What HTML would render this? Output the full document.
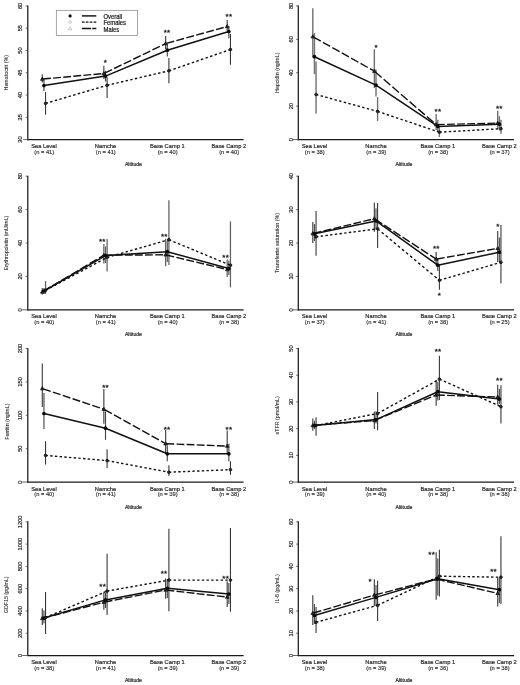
<!DOCTYPE html>
<html><head><meta charset="utf-8"><title>Figure</title>
<style>html,body{margin:0;padding:0;background:#fff;}svg{display:block;filter:grayscale(1);}</style></head>
<body>
<svg width="520" height="685" viewBox="0 0 520 685" font-family="'Liberation Sans', sans-serif">
<rect width="520" height="685" fill="#fff"/>
<g><line x1="45.55" y1="92.00" x2="45.55" y2="114.80" stroke="#383838" stroke-width="1.1"/>
<line x1="107.10" y1="77.20" x2="107.10" y2="98.10" stroke="#383838" stroke-width="1.1"/>
<line x1="168.90" y1="57.90" x2="168.90" y2="83.30" stroke="#383838" stroke-width="1.1"/>
<line x1="230.45" y1="34.00" x2="230.45" y2="64.70" stroke="#383838" stroke-width="1.1"/>
<line x1="42.30" y1="74.50" x2="42.30" y2="82.50" stroke="#404040" stroke-width="1.15"/>
<line x1="103.85" y1="65.80" x2="103.85" y2="79.00" stroke="#404040" stroke-width="1.15"/>
<line x1="165.65" y1="36.00" x2="165.65" y2="49.00" stroke="#404040" stroke-width="1.15"/>
<line x1="227.20" y1="19.90" x2="227.20" y2="31.00" stroke="#404040" stroke-width="1.15"/>
<line x1="43.95" y1="80.20" x2="43.95" y2="91.10" stroke="#484848" stroke-width="1.15"/>
<line x1="105.50" y1="71.00" x2="105.50" y2="81.60" stroke="#484848" stroke-width="1.15"/>
<line x1="167.30" y1="44.30" x2="167.30" y2="56.60" stroke="#484848" stroke-width="1.15"/>
<line x1="228.85" y1="26.00" x2="228.85" y2="38.30" stroke="#484848" stroke-width="1.15"/>
<line x1="45.55" y1="103.40" x2="107.10" y2="85.30" stroke="#111" stroke-width="1.4" stroke-dasharray="2.45 2.35" stroke-dashoffset="0.00"/>
<line x1="107.10" y1="85.30" x2="168.90" y2="70.80" stroke="#111" stroke-width="1.4" stroke-dasharray="2.43 2.33" stroke-dashoffset="0.00"/>
<line x1="168.90" y1="70.80" x2="230.45" y2="49.50" stroke="#111" stroke-width="1.4" stroke-dasharray="2.47 2.37" stroke-dashoffset="0.00"/>
<line x1="42.30" y1="79.10" x2="103.85" y2="73.50" stroke="#111" stroke-width="1.4" stroke-dasharray="7.82 2.30" stroke-dashoffset="9.32"/>
<line x1="103.85" y1="73.50" x2="165.65" y2="43.60" stroke="#111" stroke-width="1.4" stroke-dasharray="8.21 2.42" stroke-dashoffset="9.79"/>
<line x1="165.65" y1="43.60" x2="227.20" y2="26.50" stroke="#111" stroke-width="1.4" stroke-dasharray="7.95 2.34" stroke-dashoffset="9.47"/>
<line x1="43.95" y1="85.60" x2="105.50" y2="76.10" stroke="#111" stroke-width="1.5" stroke-linecap="round"/>
<line x1="105.50" y1="76.10" x2="167.30" y2="50.20" stroke="#111" stroke-width="1.5" stroke-linecap="round"/>
<line x1="167.30" y1="50.20" x2="228.85" y2="31.50" stroke="#111" stroke-width="1.5" stroke-linecap="round"/>
<circle cx="45.55" cy="103.40" r="1.35" fill="#2c2c2c" stroke="#111" stroke-width="0.8"/>
<path d="M42.30,77.10 L44.15,80.35 L40.45,80.35 Z" fill="#262626" stroke="#111" stroke-width="0.7" stroke-linejoin="round"/>
<circle cx="43.95" cy="85.60" r="1.85" fill="#0a0a0a"/>
<circle cx="107.10" cy="85.30" r="1.35" fill="#2c2c2c" stroke="#111" stroke-width="0.8"/>
<path d="M103.85,71.50 L105.70,74.75 L102.00,74.75 Z" fill="#262626" stroke="#111" stroke-width="0.7" stroke-linejoin="round"/>
<circle cx="105.50" cy="76.10" r="1.85" fill="#0a0a0a"/>
<circle cx="168.90" cy="70.80" r="1.35" fill="#2c2c2c" stroke="#111" stroke-width="0.8"/>
<path d="M165.65,41.60 L167.50,44.85 L163.80,44.85 Z" fill="#262626" stroke="#111" stroke-width="0.7" stroke-linejoin="round"/>
<circle cx="167.30" cy="50.20" r="1.85" fill="#0a0a0a"/>
<circle cx="230.45" cy="49.50" r="1.35" fill="#2c2c2c" stroke="#111" stroke-width="0.8"/>
<path d="M227.20,24.50 L229.05,27.75 L225.35,27.75 Z" fill="#262626" stroke="#111" stroke-width="0.7" stroke-linejoin="round"/>
<circle cx="228.85" cy="31.50" r="1.85" fill="#0a0a0a"/>
<line x1="27.80" y1="5.40" x2="27.80" y2="140.20" stroke="#1a1a1a" stroke-width="1.25"/>
<line x1="27.20" y1="139.60" x2="243.60" y2="139.60" stroke="#1a1a1a" stroke-width="1.25"/>
<line x1="23.20" y1="139.60" x2="27.80" y2="139.60" stroke="#4a4a4a" stroke-width="0.85"/>
<text transform="translate(22.40,139.60) rotate(-90)" font-size="5.7" text-anchor="middle" fill="#2a2a2a" stroke="#2a2a2a" stroke-width="0.2">30</text>
<line x1="25.60" y1="117.32" x2="27.80" y2="117.32" stroke="#333" stroke-width="0.7"/>
<text transform="translate(22.40,117.32) rotate(-90)" font-size="5.7" text-anchor="middle" fill="#2a2a2a" stroke="#2a2a2a" stroke-width="0.2">35</text>
<line x1="25.60" y1="95.03" x2="27.80" y2="95.03" stroke="#333" stroke-width="0.7"/>
<text transform="translate(22.40,95.03) rotate(-90)" font-size="5.7" text-anchor="middle" fill="#2a2a2a" stroke="#2a2a2a" stroke-width="0.2">40</text>
<line x1="25.60" y1="72.75" x2="27.80" y2="72.75" stroke="#333" stroke-width="0.7"/>
<text transform="translate(22.40,72.75) rotate(-90)" font-size="5.7" text-anchor="middle" fill="#2a2a2a" stroke="#2a2a2a" stroke-width="0.2">45</text>
<line x1="25.60" y1="50.47" x2="27.80" y2="50.47" stroke="#333" stroke-width="0.7"/>
<text transform="translate(22.40,50.47) rotate(-90)" font-size="5.7" text-anchor="middle" fill="#2a2a2a" stroke="#2a2a2a" stroke-width="0.2">50</text>
<line x1="25.60" y1="28.18" x2="27.80" y2="28.18" stroke="#333" stroke-width="0.7"/>
<text transform="translate(22.40,28.18) rotate(-90)" font-size="5.7" text-anchor="middle" fill="#2a2a2a" stroke="#2a2a2a" stroke-width="0.2">55</text>
<line x1="25.60" y1="5.90" x2="27.80" y2="5.90" stroke="#333" stroke-width="0.7"/>
<text transform="translate(22.40,5.90) rotate(-90)" font-size="5.7" text-anchor="middle" fill="#2a2a2a" stroke="#2a2a2a" stroke-width="0.2">60</text>
<text transform="translate(8.10,72.75) rotate(-90)" font-size="5.3" text-anchor="middle" fill="#333" stroke="#333" stroke-width="0.1">Hematocrit (%)</text>
<text transform="translate(43.95,148.10) scale(1,1.085)" font-size="5.75" text-anchor="middle" fill="#2a2a2a" stroke="#2a2a2a" stroke-width="0.2">Sea Level</text>
<text transform="translate(44.25,153.60) scale(1,1.085)" font-size="5.75" text-anchor="middle" fill="#303030" stroke="#303030" stroke-width="0.15">(n = 41)</text>
<text transform="translate(105.50,148.10) scale(1,1.085)" font-size="5.75" text-anchor="middle" fill="#2a2a2a" stroke="#2a2a2a" stroke-width="0.2">Namche</text>
<text transform="translate(105.80,153.60) scale(1,1.085)" font-size="5.75" text-anchor="middle" fill="#303030" stroke="#303030" stroke-width="0.15">(n = 41)</text>
<text transform="translate(167.30,148.10) scale(1,1.085)" font-size="5.75" text-anchor="middle" fill="#2a2a2a" stroke="#2a2a2a" stroke-width="0.2">Base Camp 1</text>
<text transform="translate(167.60,153.60) scale(1,1.085)" font-size="5.75" text-anchor="middle" fill="#303030" stroke="#303030" stroke-width="0.15">(n = 40)</text>
<text transform="translate(228.85,148.10) scale(1,1.085)" font-size="5.75" text-anchor="middle" fill="#2a2a2a" stroke="#2a2a2a" stroke-width="0.2">Base Camp 2</text>
<text transform="translate(229.15,153.60) scale(1,1.085)" font-size="5.75" text-anchor="middle" fill="#303030" stroke="#303030" stroke-width="0.15">(n = 40)</text>
<text transform="translate(133.40,166.10) scale(1,1.085)" font-size="5.1" text-anchor="middle" fill="#2a2a2a" stroke="#2a2a2a" stroke-width="0.2">Altitude</text>
<text x="105.50" y="65.00" font-size="8" letter-spacing="0.3" text-anchor="middle" fill="#1a1a1a" stroke="#1a1a1a" stroke-width="0.3">*</text>
<text x="167.10" y="35.10" font-size="8" letter-spacing="0.3" text-anchor="middle" fill="#1a1a1a" stroke="#1a1a1a" stroke-width="0.3">**</text>
<text x="228.90" y="19.10" font-size="8" letter-spacing="0.3" text-anchor="middle" fill="#1a1a1a" stroke="#1a1a1a" stroke-width="0.3">**</text></g>
<g><line x1="316.05" y1="61.60" x2="316.05" y2="113.60" stroke="#707070" stroke-width="1.4"/>
<line x1="377.60" y1="97.20" x2="377.60" y2="120.90" stroke="#707070" stroke-width="1.4"/>
<line x1="439.40" y1="126.50" x2="439.40" y2="137.00" stroke="#707070" stroke-width="1.4"/>
<line x1="500.95" y1="119.80" x2="500.95" y2="133.70" stroke="#707070" stroke-width="1.4"/>
<line x1="312.80" y1="8.30" x2="312.80" y2="57.60" stroke="#707070" stroke-width="1.4"/>
<line x1="374.35" y1="49.20" x2="374.35" y2="88.00" stroke="#707070" stroke-width="1.4"/>
<line x1="436.15" y1="114.10" x2="436.15" y2="130.00" stroke="#707070" stroke-width="1.4"/>
<line x1="497.70" y1="110.70" x2="497.70" y2="129.00" stroke="#707070" stroke-width="1.4"/>
<line x1="314.45" y1="33.00" x2="314.45" y2="74.10" stroke="#707070" stroke-width="1.4"/>
<line x1="376.00" y1="69.60" x2="376.00" y2="96.60" stroke="#707070" stroke-width="1.4"/>
<line x1="437.80" y1="119.80" x2="437.80" y2="131.50" stroke="#707070" stroke-width="1.4"/>
<line x1="499.35" y1="116.20" x2="499.35" y2="130.50" stroke="#707070" stroke-width="1.4"/>
<line x1="316.05" y1="94.50" x2="377.60" y2="111.40" stroke="#111" stroke-width="1.4" stroke-dasharray="2.44 2.34" stroke-dashoffset="0.00"/>
<line x1="377.60" y1="111.40" x2="439.40" y2="132.20" stroke="#111" stroke-width="1.4" stroke-dasharray="2.46 2.36" stroke-dashoffset="0.00"/>
<line x1="439.40" y1="132.20" x2="500.95" y2="128.70" stroke="#111" stroke-width="1.4" stroke-dasharray="2.40 2.30" stroke-dashoffset="0.00"/>
<line x1="312.80" y1="36.70" x2="374.35" y2="71.20" stroke="#111" stroke-width="1.4" stroke-dasharray="8.32 2.45" stroke-dashoffset="9.92"/>
<line x1="374.35" y1="71.20" x2="436.15" y2="124.60" stroke="#111" stroke-width="1.4" stroke-dasharray="8.82 2.60" stroke-dashoffset="10.52"/>
<line x1="436.15" y1="124.60" x2="497.70" y2="123.10" stroke="#111" stroke-width="1.4" stroke-dasharray="7.80 2.30" stroke-dashoffset="9.30"/>
<line x1="314.45" y1="56.70" x2="376.00" y2="85.10" stroke="#111" stroke-width="1.5" stroke-linecap="round"/>
<line x1="376.00" y1="85.10" x2="437.80" y2="126.40" stroke="#111" stroke-width="1.5" stroke-linecap="round"/>
<line x1="437.80" y1="126.40" x2="499.35" y2="124.20" stroke="#111" stroke-width="1.5" stroke-linecap="round"/>
<circle cx="316.05" cy="94.50" r="1.35" fill="#2c2c2c" stroke="#111" stroke-width="0.8"/>
<path d="M312.80,34.70 L314.65,37.95 L310.95,37.95 Z" fill="#262626" stroke="#111" stroke-width="0.7" stroke-linejoin="round"/>
<circle cx="314.45" cy="56.70" r="1.85" fill="#0a0a0a"/>
<circle cx="377.60" cy="111.40" r="1.35" fill="#2c2c2c" stroke="#111" stroke-width="0.8"/>
<path d="M374.35,69.20 L376.20,72.45 L372.50,72.45 Z" fill="#262626" stroke="#111" stroke-width="0.7" stroke-linejoin="round"/>
<circle cx="376.00" cy="85.10" r="1.85" fill="#0a0a0a"/>
<circle cx="439.40" cy="132.20" r="1.35" fill="#2c2c2c" stroke="#111" stroke-width="0.8"/>
<path d="M436.15,122.60 L438.00,125.85 L434.30,125.85 Z" fill="#262626" stroke="#111" stroke-width="0.7" stroke-linejoin="round"/>
<circle cx="437.80" cy="126.40" r="1.85" fill="#0a0a0a"/>
<circle cx="500.95" cy="128.70" r="1.35" fill="#2c2c2c" stroke="#111" stroke-width="0.8"/>
<path d="M497.70,121.10 L499.55,124.35 L495.85,124.35 Z" fill="#262626" stroke="#111" stroke-width="0.7" stroke-linejoin="round"/>
<circle cx="499.35" cy="124.20" r="1.85" fill="#0a0a0a"/>
<line x1="298.30" y1="5.40" x2="298.30" y2="140.20" stroke="#1a1a1a" stroke-width="1.25"/>
<line x1="297.70" y1="139.60" x2="514.10" y2="139.60" stroke="#1a1a1a" stroke-width="1.25"/>
<line x1="292.70" y1="139.60" x2="298.30" y2="139.60" stroke="#4a4a4a" stroke-width="0.85"/>
<text transform="translate(292.90,139.60) rotate(-90)" font-size="5.7" text-anchor="middle" fill="#2a2a2a" stroke="#2a2a2a" stroke-width="0.2">0</text>
<line x1="296.10" y1="106.17" x2="298.30" y2="106.17" stroke="#333" stroke-width="0.7"/>
<text transform="translate(292.90,106.17) rotate(-90)" font-size="5.7" text-anchor="middle" fill="#2a2a2a" stroke="#2a2a2a" stroke-width="0.2">20</text>
<line x1="296.10" y1="72.75" x2="298.30" y2="72.75" stroke="#333" stroke-width="0.7"/>
<text transform="translate(292.90,72.75) rotate(-90)" font-size="5.7" text-anchor="middle" fill="#2a2a2a" stroke="#2a2a2a" stroke-width="0.2">40</text>
<line x1="296.10" y1="39.33" x2="298.30" y2="39.33" stroke="#333" stroke-width="0.7"/>
<text transform="translate(292.90,39.33) rotate(-90)" font-size="5.7" text-anchor="middle" fill="#2a2a2a" stroke="#2a2a2a" stroke-width="0.2">60</text>
<line x1="296.10" y1="5.90" x2="298.30" y2="5.90" stroke="#333" stroke-width="0.7"/>
<text transform="translate(292.90,5.90) rotate(-90)" font-size="5.7" text-anchor="middle" fill="#2a2a2a" stroke="#2a2a2a" stroke-width="0.2">80</text>
<text transform="translate(278.60,72.75) rotate(-90)" font-size="5.3" text-anchor="middle" fill="#333" stroke="#333" stroke-width="0.1">Hepcidin (ng/mL)</text>
<text transform="translate(314.45,148.10) scale(1,1.085)" font-size="5.75" text-anchor="middle" fill="#2a2a2a" stroke="#2a2a2a" stroke-width="0.2">Sea Level</text>
<text transform="translate(314.75,153.60) scale(1,1.085)" font-size="5.75" text-anchor="middle" fill="#303030" stroke="#303030" stroke-width="0.15">(n = 38)</text>
<text transform="translate(376.00,148.10) scale(1,1.085)" font-size="5.75" text-anchor="middle" fill="#2a2a2a" stroke="#2a2a2a" stroke-width="0.2">Namche</text>
<text transform="translate(376.30,153.60) scale(1,1.085)" font-size="5.75" text-anchor="middle" fill="#303030" stroke="#303030" stroke-width="0.15">(n = 39)</text>
<text transform="translate(437.80,148.10) scale(1,1.085)" font-size="5.75" text-anchor="middle" fill="#2a2a2a" stroke="#2a2a2a" stroke-width="0.2">Base Camp 1</text>
<text transform="translate(438.10,153.60) scale(1,1.085)" font-size="5.75" text-anchor="middle" fill="#303030" stroke="#303030" stroke-width="0.15">(n = 38)</text>
<text transform="translate(499.35,148.10) scale(1,1.085)" font-size="5.75" text-anchor="middle" fill="#2a2a2a" stroke="#2a2a2a" stroke-width="0.2">Base Camp 2</text>
<text transform="translate(499.65,153.60) scale(1,1.085)" font-size="5.75" text-anchor="middle" fill="#303030" stroke="#303030" stroke-width="0.15">(n = 37)</text>
<text transform="translate(403.90,166.10) scale(1,1.085)" font-size="5.1" text-anchor="middle" fill="#2a2a2a" stroke="#2a2a2a" stroke-width="0.2">Altitude</text>
<text x="376.10" y="49.50" font-size="8" letter-spacing="0.3" text-anchor="middle" fill="#1a1a1a" stroke="#1a1a1a" stroke-width="0.3">*</text>
<text x="438.00" y="114.30" font-size="8" letter-spacing="0.3" text-anchor="middle" fill="#1a1a1a" stroke="#1a1a1a" stroke-width="0.3">**</text>
<text x="499.30" y="110.70" font-size="8" letter-spacing="0.3" text-anchor="middle" fill="#1a1a1a" stroke="#1a1a1a" stroke-width="0.3">**</text></g>
<g><line x1="45.55" y1="281.10" x2="45.55" y2="294.00" stroke="#606060" stroke-width="1.25"/>
<line x1="107.10" y1="239.10" x2="107.10" y2="271.60" stroke="#606060" stroke-width="1.25"/>
<line x1="168.90" y1="200.30" x2="168.90" y2="265.10" stroke="#606060" stroke-width="1.25"/>
<line x1="230.45" y1="221.40" x2="230.45" y2="287.40" stroke="#606060" stroke-width="1.25"/>
<line x1="42.30" y1="288.10" x2="42.30" y2="294.80" stroke="#606060" stroke-width="1.25"/>
<line x1="103.85" y1="243.90" x2="103.85" y2="263.60" stroke="#606060" stroke-width="1.25"/>
<line x1="165.65" y1="238.80" x2="165.65" y2="266.30" stroke="#606060" stroke-width="1.25"/>
<line x1="227.20" y1="259.40" x2="227.20" y2="276.90" stroke="#606060" stroke-width="1.25"/>
<line x1="43.95" y1="288.10" x2="43.95" y2="294.00" stroke="#606060" stroke-width="1.25"/>
<line x1="105.50" y1="246.40" x2="105.50" y2="263.00" stroke="#606060" stroke-width="1.25"/>
<line x1="167.30" y1="241.00" x2="167.30" y2="262.00" stroke="#606060" stroke-width="1.25"/>
<line x1="228.85" y1="260.50" x2="228.85" y2="275.00" stroke="#606060" stroke-width="1.25"/>
<line x1="45.55" y1="290.30" x2="107.10" y2="257.40" stroke="#111" stroke-width="1.4" stroke-dasharray="2.55 2.44" stroke-dashoffset="0.00"/>
<line x1="107.10" y1="257.40" x2="168.90" y2="239.70" stroke="#111" stroke-width="1.4" stroke-dasharray="2.45 2.35" stroke-dashoffset="0.00"/>
<line x1="168.90" y1="239.70" x2="230.45" y2="265.20" stroke="#111" stroke-width="1.4" stroke-dasharray="2.50 2.39" stroke-dashoffset="0.00"/>
<line x1="42.30" y1="291.90" x2="103.85" y2="255.20" stroke="#111" stroke-width="1.4" stroke-dasharray="8.38 2.47" stroke-dashoffset="9.99"/>
<line x1="103.85" y1="255.20" x2="165.65" y2="254.80" stroke="#111" stroke-width="1.4" stroke-dasharray="7.80 2.30" stroke-dashoffset="9.30"/>
<line x1="165.65" y1="254.80" x2="227.20" y2="269.50" stroke="#111" stroke-width="1.4" stroke-dasharray="7.91 2.33" stroke-dashoffset="9.43"/>
<line x1="43.95" y1="291.00" x2="105.50" y2="255.60" stroke="#111" stroke-width="1.5" stroke-linecap="round"/>
<line x1="105.50" y1="255.60" x2="167.30" y2="251.70" stroke="#111" stroke-width="1.5" stroke-linecap="round"/>
<line x1="167.30" y1="251.70" x2="228.85" y2="268.50" stroke="#111" stroke-width="1.5" stroke-linecap="round"/>
<circle cx="45.55" cy="290.30" r="1.35" fill="#2c2c2c" stroke="#111" stroke-width="0.8"/>
<path d="M42.30,289.90 L44.15,293.15 L40.45,293.15 Z" fill="#262626" stroke="#111" stroke-width="0.7" stroke-linejoin="round"/>
<circle cx="43.95" cy="291.00" r="1.85" fill="#0a0a0a"/>
<circle cx="107.10" cy="257.40" r="1.35" fill="#2c2c2c" stroke="#111" stroke-width="0.8"/>
<path d="M103.85,253.20 L105.70,256.45 L102.00,256.45 Z" fill="#262626" stroke="#111" stroke-width="0.7" stroke-linejoin="round"/>
<circle cx="105.50" cy="255.60" r="1.85" fill="#0a0a0a"/>
<circle cx="168.90" cy="239.70" r="1.35" fill="#2c2c2c" stroke="#111" stroke-width="0.8"/>
<path d="M165.65,252.80 L167.50,256.05 L163.80,256.05 Z" fill="#262626" stroke="#111" stroke-width="0.7" stroke-linejoin="round"/>
<circle cx="167.30" cy="251.70" r="1.85" fill="#0a0a0a"/>
<circle cx="230.45" cy="265.20" r="1.35" fill="#2c2c2c" stroke="#111" stroke-width="0.8"/>
<path d="M227.20,267.50 L229.05,270.75 L225.35,270.75 Z" fill="#262626" stroke="#111" stroke-width="0.7" stroke-linejoin="round"/>
<circle cx="228.85" cy="268.50" r="1.85" fill="#0a0a0a"/>
<line x1="27.80" y1="175.70" x2="27.80" y2="310.45" stroke="#1a1a1a" stroke-width="1.25"/>
<line x1="27.20" y1="309.85" x2="243.60" y2="309.85" stroke="#1a1a1a" stroke-width="1.25"/>
<line x1="22.20" y1="309.85" x2="27.80" y2="309.85" stroke="#4a4a4a" stroke-width="0.85"/>
<text transform="translate(22.40,309.85) rotate(-90)" font-size="5.7" text-anchor="middle" fill="#2a2a2a" stroke="#2a2a2a" stroke-width="0.2">0</text>
<line x1="25.60" y1="276.44" x2="27.80" y2="276.44" stroke="#333" stroke-width="0.7"/>
<text transform="translate(22.40,276.44) rotate(-90)" font-size="5.7" text-anchor="middle" fill="#2a2a2a" stroke="#2a2a2a" stroke-width="0.2">20</text>
<line x1="25.60" y1="243.03" x2="27.80" y2="243.03" stroke="#333" stroke-width="0.7"/>
<text transform="translate(22.40,243.03) rotate(-90)" font-size="5.7" text-anchor="middle" fill="#2a2a2a" stroke="#2a2a2a" stroke-width="0.2">40</text>
<line x1="25.60" y1="209.61" x2="27.80" y2="209.61" stroke="#333" stroke-width="0.7"/>
<text transform="translate(22.40,209.61) rotate(-90)" font-size="5.7" text-anchor="middle" fill="#2a2a2a" stroke="#2a2a2a" stroke-width="0.2">60</text>
<line x1="25.60" y1="176.20" x2="27.80" y2="176.20" stroke="#333" stroke-width="0.7"/>
<text transform="translate(22.40,176.20) rotate(-90)" font-size="5.7" text-anchor="middle" fill="#2a2a2a" stroke="#2a2a2a" stroke-width="0.2">80</text>
<text transform="translate(8.10,243.03) rotate(-90)" font-size="5.3" text-anchor="middle" fill="#333" stroke="#333" stroke-width="0.1">Erythropoietin (mU/mL)</text>
<text transform="translate(43.95,318.35) scale(1,1.085)" font-size="5.75" text-anchor="middle" fill="#2a2a2a" stroke="#2a2a2a" stroke-width="0.2">Sea Level</text>
<text transform="translate(44.25,323.85) scale(1,1.085)" font-size="5.75" text-anchor="middle" fill="#303030" stroke="#303030" stroke-width="0.15">(n = 40)</text>
<text transform="translate(105.50,318.35) scale(1,1.085)" font-size="5.75" text-anchor="middle" fill="#2a2a2a" stroke="#2a2a2a" stroke-width="0.2">Namche</text>
<text transform="translate(105.80,323.85) scale(1,1.085)" font-size="5.75" text-anchor="middle" fill="#303030" stroke="#303030" stroke-width="0.15">(n = 41)</text>
<text transform="translate(167.30,318.35) scale(1,1.085)" font-size="5.75" text-anchor="middle" fill="#2a2a2a" stroke="#2a2a2a" stroke-width="0.2">Base Camp 1</text>
<text transform="translate(167.60,323.85) scale(1,1.085)" font-size="5.75" text-anchor="middle" fill="#303030" stroke="#303030" stroke-width="0.15">(n = 40)</text>
<text transform="translate(228.85,318.35) scale(1,1.085)" font-size="5.75" text-anchor="middle" fill="#2a2a2a" stroke="#2a2a2a" stroke-width="0.2">Base Camp 2</text>
<text transform="translate(229.15,323.85) scale(1,1.085)" font-size="5.75" text-anchor="middle" fill="#303030" stroke="#303030" stroke-width="0.15">(n = 38)</text>
<text transform="translate(133.40,336.35) scale(1,1.085)" font-size="5.1" text-anchor="middle" fill="#2a2a2a" stroke="#2a2a2a" stroke-width="0.2">Altitude</text>
<text x="102.30" y="243.90" font-size="8" letter-spacing="0.3" text-anchor="middle" fill="#1a1a1a" stroke="#1a1a1a" stroke-width="0.3">**</text>
<text x="164.30" y="238.50" font-size="8" letter-spacing="0.3" text-anchor="middle" fill="#1a1a1a" stroke="#1a1a1a" stroke-width="0.3">**</text>
<text x="225.70" y="260.20" font-size="8" letter-spacing="0.3" text-anchor="middle" fill="#1a1a1a" stroke="#1a1a1a" stroke-width="0.3">**</text></g>
<g><line x1="316.05" y1="211.00" x2="316.05" y2="255.70" stroke="#383838" stroke-width="1.1"/>
<line x1="377.60" y1="202.90" x2="377.60" y2="248.10" stroke="#383838" stroke-width="1.1"/>
<line x1="439.40" y1="266.00" x2="439.40" y2="289.80" stroke="#383838" stroke-width="1.1"/>
<line x1="500.95" y1="224.90" x2="500.95" y2="283.50" stroke="#383838" stroke-width="1.1"/>
<line x1="312.80" y1="221.90" x2="312.80" y2="243.00" stroke="#404040" stroke-width="1.15"/>
<line x1="374.35" y1="202.50" x2="374.35" y2="231.80" stroke="#404040" stroke-width="1.15"/>
<line x1="436.15" y1="252.00" x2="436.15" y2="265.00" stroke="#404040" stroke-width="1.15"/>
<line x1="497.70" y1="230.90" x2="497.70" y2="262.00" stroke="#404040" stroke-width="1.15"/>
<line x1="314.45" y1="224.10" x2="314.45" y2="241.20" stroke="#484848" stroke-width="1.15"/>
<line x1="376.00" y1="208.20" x2="376.00" y2="230.00" stroke="#484848" stroke-width="1.15"/>
<line x1="437.80" y1="259.00" x2="437.80" y2="270.90" stroke="#484848" stroke-width="1.15"/>
<line x1="499.35" y1="237.50" x2="499.35" y2="262.00" stroke="#484848" stroke-width="1.15"/>
<line x1="316.05" y1="236.80" x2="377.60" y2="228.80" stroke="#111" stroke-width="1.4" stroke-dasharray="2.41 2.31" stroke-dashoffset="0.00"/>
<line x1="377.60" y1="228.80" x2="439.40" y2="280.30" stroke="#111" stroke-width="1.4" stroke-dasharray="2.70 2.59" stroke-dashoffset="0.00"/>
<line x1="439.40" y1="280.30" x2="500.95" y2="262.30" stroke="#111" stroke-width="1.4" stroke-dasharray="2.45 2.35" stroke-dashoffset="0.00"/>
<line x1="312.80" y1="233.60" x2="374.35" y2="218.70" stroke="#111" stroke-width="1.4" stroke-dasharray="7.91 2.33" stroke-dashoffset="9.43"/>
<line x1="374.35" y1="218.70" x2="436.15" y2="259.10" stroke="#111" stroke-width="1.4" stroke-dasharray="8.47 2.50" stroke-dashoffset="10.10"/>
<line x1="436.15" y1="259.10" x2="497.70" y2="248.40" stroke="#111" stroke-width="1.4" stroke-dasharray="7.86 2.32" stroke-dashoffset="9.37"/>
<line x1="314.45" y1="233.80" x2="376.00" y2="220.90" stroke="#111" stroke-width="1.5" stroke-linecap="round"/>
<line x1="376.00" y1="220.90" x2="437.80" y2="265.20" stroke="#111" stroke-width="1.5" stroke-linecap="round"/>
<line x1="437.80" y1="265.20" x2="499.35" y2="252.20" stroke="#111" stroke-width="1.5" stroke-linecap="round"/>
<circle cx="316.05" cy="236.80" r="1.35" fill="#2c2c2c" stroke="#111" stroke-width="0.8"/>
<path d="M312.80,231.60 L314.65,234.85 L310.95,234.85 Z" fill="#262626" stroke="#111" stroke-width="0.7" stroke-linejoin="round"/>
<circle cx="314.45" cy="233.80" r="1.85" fill="#0a0a0a"/>
<circle cx="377.60" cy="228.80" r="1.35" fill="#2c2c2c" stroke="#111" stroke-width="0.8"/>
<path d="M374.35,216.70 L376.20,219.95 L372.50,219.95 Z" fill="#262626" stroke="#111" stroke-width="0.7" stroke-linejoin="round"/>
<circle cx="376.00" cy="220.90" r="1.85" fill="#0a0a0a"/>
<circle cx="439.40" cy="280.30" r="1.35" fill="#2c2c2c" stroke="#111" stroke-width="0.8"/>
<path d="M436.15,257.10 L438.00,260.35 L434.30,260.35 Z" fill="#262626" stroke="#111" stroke-width="0.7" stroke-linejoin="round"/>
<circle cx="437.80" cy="265.20" r="1.85" fill="#0a0a0a"/>
<circle cx="500.95" cy="262.30" r="1.35" fill="#2c2c2c" stroke="#111" stroke-width="0.8"/>
<path d="M497.70,246.40 L499.55,249.65 L495.85,249.65 Z" fill="#262626" stroke="#111" stroke-width="0.7" stroke-linejoin="round"/>
<circle cx="499.35" cy="252.20" r="1.85" fill="#0a0a0a"/>
<line x1="298.30" y1="175.70" x2="298.30" y2="310.45" stroke="#1a1a1a" stroke-width="1.25"/>
<line x1="297.70" y1="309.85" x2="514.10" y2="309.85" stroke="#1a1a1a" stroke-width="1.25"/>
<line x1="292.70" y1="309.85" x2="298.30" y2="309.85" stroke="#4a4a4a" stroke-width="0.85"/>
<text transform="translate(292.90,309.85) rotate(-90)" font-size="5.7" text-anchor="middle" fill="#2a2a2a" stroke="#2a2a2a" stroke-width="0.2">0</text>
<line x1="296.10" y1="276.44" x2="298.30" y2="276.44" stroke="#333" stroke-width="0.7"/>
<text transform="translate(292.90,276.44) rotate(-90)" font-size="5.7" text-anchor="middle" fill="#2a2a2a" stroke="#2a2a2a" stroke-width="0.2">10</text>
<line x1="296.10" y1="243.03" x2="298.30" y2="243.03" stroke="#333" stroke-width="0.7"/>
<text transform="translate(292.90,243.03) rotate(-90)" font-size="5.7" text-anchor="middle" fill="#2a2a2a" stroke="#2a2a2a" stroke-width="0.2">20</text>
<line x1="296.10" y1="209.61" x2="298.30" y2="209.61" stroke="#333" stroke-width="0.7"/>
<text transform="translate(292.90,209.61) rotate(-90)" font-size="5.7" text-anchor="middle" fill="#2a2a2a" stroke="#2a2a2a" stroke-width="0.2">30</text>
<line x1="296.10" y1="176.20" x2="298.30" y2="176.20" stroke="#333" stroke-width="0.7"/>
<text transform="translate(292.90,176.20) rotate(-90)" font-size="5.7" text-anchor="middle" fill="#2a2a2a" stroke="#2a2a2a" stroke-width="0.2">40</text>
<text transform="translate(278.60,243.03) rotate(-90)" font-size="5.3" text-anchor="middle" fill="#333" stroke="#333" stroke-width="0.1">Transferrin saturation (%)</text>
<text transform="translate(314.45,318.35) scale(1,1.085)" font-size="5.75" text-anchor="middle" fill="#2a2a2a" stroke="#2a2a2a" stroke-width="0.2">Sea Level</text>
<text transform="translate(314.75,323.85) scale(1,1.085)" font-size="5.75" text-anchor="middle" fill="#303030" stroke="#303030" stroke-width="0.15">(n = 37)</text>
<text transform="translate(376.00,318.35) scale(1,1.085)" font-size="5.75" text-anchor="middle" fill="#2a2a2a" stroke="#2a2a2a" stroke-width="0.2">Namche</text>
<text transform="translate(376.30,323.85) scale(1,1.085)" font-size="5.75" text-anchor="middle" fill="#303030" stroke="#303030" stroke-width="0.15">(n = 41)</text>
<text transform="translate(437.80,318.35) scale(1,1.085)" font-size="5.75" text-anchor="middle" fill="#2a2a2a" stroke="#2a2a2a" stroke-width="0.2">Base Camp 1</text>
<text transform="translate(438.10,323.85) scale(1,1.085)" font-size="5.75" text-anchor="middle" fill="#303030" stroke="#303030" stroke-width="0.15">(n = 38)</text>
<text transform="translate(499.35,318.35) scale(1,1.085)" font-size="5.75" text-anchor="middle" fill="#2a2a2a" stroke="#2a2a2a" stroke-width="0.2">Base Camp 2</text>
<text transform="translate(499.65,323.85) scale(1,1.085)" font-size="5.75" text-anchor="middle" fill="#303030" stroke="#303030" stroke-width="0.15">(n = 25)</text>
<text transform="translate(403.90,336.35) scale(1,1.085)" font-size="5.1" text-anchor="middle" fill="#2a2a2a" stroke="#2a2a2a" stroke-width="0.2">Altitude</text>
<text x="436.30" y="250.80" font-size="8" letter-spacing="0.3" text-anchor="middle" fill="#1a1a1a" stroke="#1a1a1a" stroke-width="0.3">**</text>
<text x="439.50" y="297.70" font-size="8" letter-spacing="0.3" text-anchor="middle" fill="#1a1a1a" stroke="#1a1a1a" stroke-width="0.3">*</text>
<text x="497.90" y="229.40" font-size="8" letter-spacing="0.3" text-anchor="middle" fill="#1a1a1a" stroke="#1a1a1a" stroke-width="0.3">*</text></g>
<g><line x1="45.55" y1="441.20" x2="45.55" y2="464.50" stroke="#383838" stroke-width="1.1"/>
<line x1="107.10" y1="449.30" x2="107.10" y2="468.00" stroke="#383838" stroke-width="1.1"/>
<line x1="168.90" y1="465.20" x2="168.90" y2="476.10" stroke="#383838" stroke-width="1.1"/>
<line x1="230.45" y1="461.20" x2="230.45" y2="474.80" stroke="#383838" stroke-width="1.1"/>
<line x1="42.30" y1="363.60" x2="42.30" y2="407.00" stroke="#404040" stroke-width="1.15"/>
<line x1="103.85" y1="389.00" x2="103.85" y2="423.80" stroke="#404040" stroke-width="1.15"/>
<line x1="165.65" y1="430.10" x2="165.65" y2="453.30" stroke="#404040" stroke-width="1.15"/>
<line x1="227.20" y1="430.50" x2="227.20" y2="454.00" stroke="#404040" stroke-width="1.15"/>
<line x1="43.95" y1="393.00" x2="43.95" y2="429.00" stroke="#484848" stroke-width="1.15"/>
<line x1="105.50" y1="411.40" x2="105.50" y2="439.90" stroke="#484848" stroke-width="1.15"/>
<line x1="167.30" y1="445.40" x2="167.30" y2="461.20" stroke="#484848" stroke-width="1.15"/>
<line x1="228.85" y1="443.70" x2="228.85" y2="461.20" stroke="#484848" stroke-width="1.15"/>
<line x1="45.55" y1="455.40" x2="107.10" y2="460.60" stroke="#111" stroke-width="1.4" stroke-dasharray="2.40 2.30" stroke-dashoffset="0.00"/>
<line x1="107.10" y1="460.60" x2="168.90" y2="472.20" stroke="#111" stroke-width="1.4" stroke-dasharray="2.42 2.32" stroke-dashoffset="0.00"/>
<line x1="168.90" y1="472.20" x2="230.45" y2="469.70" stroke="#111" stroke-width="1.4" stroke-dasharray="2.40 2.30" stroke-dashoffset="0.00"/>
<line x1="42.30" y1="388.60" x2="103.85" y2="409.20" stroke="#111" stroke-width="1.4" stroke-dasharray="8.01 2.36" stroke-dashoffset="9.55"/>
<line x1="103.85" y1="409.20" x2="165.65" y2="443.70" stroke="#111" stroke-width="1.4" stroke-dasharray="8.32 2.45" stroke-dashoffset="9.92"/>
<line x1="165.65" y1="443.70" x2="227.20" y2="446.10" stroke="#111" stroke-width="1.4" stroke-dasharray="7.80 2.30" stroke-dashoffset="9.30"/>
<line x1="43.95" y1="413.50" x2="105.50" y2="428.20" stroke="#111" stroke-width="1.5" stroke-linecap="round"/>
<line x1="105.50" y1="428.20" x2="167.30" y2="453.80" stroke="#111" stroke-width="1.5" stroke-linecap="round"/>
<line x1="167.30" y1="453.80" x2="228.85" y2="453.80" stroke="#111" stroke-width="1.5" stroke-linecap="round"/>
<circle cx="45.55" cy="455.40" r="1.35" fill="#2c2c2c" stroke="#111" stroke-width="0.8"/>
<path d="M42.30,386.60 L44.15,389.85 L40.45,389.85 Z" fill="#262626" stroke="#111" stroke-width="0.7" stroke-linejoin="round"/>
<circle cx="43.95" cy="413.50" r="1.85" fill="#0a0a0a"/>
<circle cx="107.10" cy="460.60" r="1.35" fill="#2c2c2c" stroke="#111" stroke-width="0.8"/>
<path d="M103.85,407.20 L105.70,410.45 L102.00,410.45 Z" fill="#262626" stroke="#111" stroke-width="0.7" stroke-linejoin="round"/>
<circle cx="105.50" cy="428.20" r="1.85" fill="#0a0a0a"/>
<circle cx="168.90" cy="472.20" r="1.35" fill="#2c2c2c" stroke="#111" stroke-width="0.8"/>
<path d="M165.65,441.70 L167.50,444.95 L163.80,444.95 Z" fill="#262626" stroke="#111" stroke-width="0.7" stroke-linejoin="round"/>
<circle cx="167.30" cy="453.80" r="1.85" fill="#0a0a0a"/>
<circle cx="230.45" cy="469.70" r="1.35" fill="#2c2c2c" stroke="#111" stroke-width="0.8"/>
<path d="M227.20,444.10 L229.05,447.35 L225.35,447.35 Z" fill="#262626" stroke="#111" stroke-width="0.7" stroke-linejoin="round"/>
<circle cx="228.85" cy="453.80" r="1.85" fill="#0a0a0a"/>
<line x1="27.80" y1="348.00" x2="27.80" y2="482.70" stroke="#1a1a1a" stroke-width="1.25"/>
<line x1="27.20" y1="482.10" x2="243.60" y2="482.10" stroke="#1a1a1a" stroke-width="1.25"/>
<line x1="22.20" y1="482.10" x2="27.80" y2="482.10" stroke="#4a4a4a" stroke-width="0.85"/>
<text transform="translate(22.40,482.10) rotate(-90)" font-size="5.7" text-anchor="middle" fill="#2a2a2a" stroke="#2a2a2a" stroke-width="0.2">0</text>
<line x1="25.60" y1="448.70" x2="27.80" y2="448.70" stroke="#333" stroke-width="0.7"/>
<text transform="translate(22.40,448.70) rotate(-90)" font-size="5.7" text-anchor="middle" fill="#2a2a2a" stroke="#2a2a2a" stroke-width="0.2">50</text>
<line x1="25.60" y1="415.30" x2="27.80" y2="415.30" stroke="#333" stroke-width="0.7"/>
<text transform="translate(22.40,415.30) rotate(-90)" font-size="5.7" text-anchor="middle" fill="#2a2a2a" stroke="#2a2a2a" stroke-width="0.2">100</text>
<line x1="25.60" y1="381.90" x2="27.80" y2="381.90" stroke="#333" stroke-width="0.7"/>
<text transform="translate(22.40,381.90) rotate(-90)" font-size="5.7" text-anchor="middle" fill="#2a2a2a" stroke="#2a2a2a" stroke-width="0.2">150</text>
<line x1="25.60" y1="348.50" x2="27.80" y2="348.50" stroke="#333" stroke-width="0.7"/>
<text transform="translate(22.40,348.50) rotate(-90)" font-size="5.7" text-anchor="middle" fill="#2a2a2a" stroke="#2a2a2a" stroke-width="0.2">200</text>
<text transform="translate(8.50,421.70) rotate(-90)" font-size="5.3" text-anchor="middle" fill="#333" stroke="#333" stroke-width="0.1">Ferritin (ng/mL)</text>
<text transform="translate(43.95,490.60) scale(1,1.085)" font-size="5.75" text-anchor="middle" fill="#2a2a2a" stroke="#2a2a2a" stroke-width="0.2">Sea Level</text>
<text transform="translate(44.25,496.10) scale(1,1.085)" font-size="5.75" text-anchor="middle" fill="#303030" stroke="#303030" stroke-width="0.15">(n = 40)</text>
<text transform="translate(105.50,490.60) scale(1,1.085)" font-size="5.75" text-anchor="middle" fill="#2a2a2a" stroke="#2a2a2a" stroke-width="0.2">Namche</text>
<text transform="translate(105.80,496.10) scale(1,1.085)" font-size="5.75" text-anchor="middle" fill="#303030" stroke="#303030" stroke-width="0.15">(n = 41)</text>
<text transform="translate(167.30,490.60) scale(1,1.085)" font-size="5.75" text-anchor="middle" fill="#2a2a2a" stroke="#2a2a2a" stroke-width="0.2">Base Camp 1</text>
<text transform="translate(167.60,496.10) scale(1,1.085)" font-size="5.75" text-anchor="middle" fill="#303030" stroke="#303030" stroke-width="0.15">(n = 39)</text>
<text transform="translate(228.85,490.60) scale(1,1.085)" font-size="5.75" text-anchor="middle" fill="#2a2a2a" stroke="#2a2a2a" stroke-width="0.2">Base Camp 2</text>
<text transform="translate(229.15,496.10) scale(1,1.085)" font-size="5.75" text-anchor="middle" fill="#303030" stroke="#303030" stroke-width="0.15">(n = 38)</text>
<text transform="translate(133.40,508.60) scale(1,1.085)" font-size="5.1" text-anchor="middle" fill="#2a2a2a" stroke="#2a2a2a" stroke-width="0.2">Altitude</text>
<text x="105.60" y="390.30" font-size="8" letter-spacing="0.3" text-anchor="middle" fill="#1a1a1a" stroke="#1a1a1a" stroke-width="0.3">**</text>
<text x="167.10" y="431.50" font-size="8" letter-spacing="0.3" text-anchor="middle" fill="#1a1a1a" stroke="#1a1a1a" stroke-width="0.3">**</text>
<text x="228.90" y="431.90" font-size="8" letter-spacing="0.3" text-anchor="middle" fill="#1a1a1a" stroke="#1a1a1a" stroke-width="0.3">**</text></g>
<g><line x1="316.05" y1="417.20" x2="316.05" y2="435.80" stroke="#383838" stroke-width="1.1"/>
<line x1="377.60" y1="392.00" x2="377.60" y2="430.20" stroke="#383838" stroke-width="1.1"/>
<line x1="439.40" y1="355.70" x2="439.40" y2="400.00" stroke="#383838" stroke-width="1.1"/>
<line x1="500.95" y1="385.30" x2="500.95" y2="423.60" stroke="#383838" stroke-width="1.1"/>
<line x1="312.80" y1="418.60" x2="312.80" y2="430.70" stroke="#404040" stroke-width="1.15"/>
<line x1="374.35" y1="411.80" x2="374.35" y2="428.90" stroke="#404040" stroke-width="1.15"/>
<line x1="436.15" y1="380.20" x2="436.15" y2="405.70" stroke="#404040" stroke-width="1.15"/>
<line x1="497.70" y1="384.80" x2="497.70" y2="404.70" stroke="#404040" stroke-width="1.15"/>
<line x1="314.45" y1="420.80" x2="314.45" y2="429.00" stroke="#484848" stroke-width="1.15"/>
<line x1="376.00" y1="411.30" x2="376.00" y2="423.60" stroke="#484848" stroke-width="1.15"/>
<line x1="437.80" y1="381.70" x2="437.80" y2="400.60" stroke="#484848" stroke-width="1.15"/>
<line x1="499.35" y1="388.90" x2="499.35" y2="404.00" stroke="#484848" stroke-width="1.15"/>
<line x1="316.05" y1="425.50" x2="377.60" y2="413.50" stroke="#111" stroke-width="1.4" stroke-dasharray="2.42 2.32" stroke-dashoffset="0.00"/>
<line x1="377.60" y1="413.50" x2="439.40" y2="379.20" stroke="#111" stroke-width="1.4" stroke-dasharray="2.56 2.45" stroke-dashoffset="0.00"/>
<line x1="439.40" y1="379.20" x2="500.95" y2="406.70" stroke="#111" stroke-width="1.4" stroke-dasharray="2.51 2.40" stroke-dashoffset="0.00"/>
<line x1="312.80" y1="425.50" x2="374.35" y2="420.50" stroke="#111" stroke-width="1.4" stroke-dasharray="7.81 2.30" stroke-dashoffset="9.32"/>
<line x1="374.35" y1="420.50" x2="436.15" y2="395.00" stroke="#111" stroke-width="1.4" stroke-dasharray="8.11 2.39" stroke-dashoffset="9.67"/>
<line x1="436.15" y1="395.00" x2="497.70" y2="397.00" stroke="#111" stroke-width="1.4" stroke-dasharray="7.80 2.30" stroke-dashoffset="9.30"/>
<line x1="314.45" y1="425.50" x2="376.00" y2="419.60" stroke="#111" stroke-width="1.5" stroke-linecap="round"/>
<line x1="376.00" y1="419.60" x2="437.80" y2="391.70" stroke="#111" stroke-width="1.5" stroke-linecap="round"/>
<line x1="437.80" y1="391.70" x2="499.35" y2="399.10" stroke="#111" stroke-width="1.5" stroke-linecap="round"/>
<circle cx="316.05" cy="425.50" r="1.35" fill="#2c2c2c" stroke="#111" stroke-width="0.8"/>
<path d="M312.80,423.50 L314.65,426.75 L310.95,426.75 Z" fill="#262626" stroke="#111" stroke-width="0.7" stroke-linejoin="round"/>
<circle cx="314.45" cy="425.50" r="1.85" fill="#0a0a0a"/>
<circle cx="377.60" cy="413.50" r="1.35" fill="#2c2c2c" stroke="#111" stroke-width="0.8"/>
<path d="M374.35,418.50 L376.20,421.75 L372.50,421.75 Z" fill="#262626" stroke="#111" stroke-width="0.7" stroke-linejoin="round"/>
<circle cx="376.00" cy="419.60" r="1.85" fill="#0a0a0a"/>
<circle cx="439.40" cy="379.20" r="1.35" fill="#2c2c2c" stroke="#111" stroke-width="0.8"/>
<path d="M436.15,393.00 L438.00,396.25 L434.30,396.25 Z" fill="#262626" stroke="#111" stroke-width="0.7" stroke-linejoin="round"/>
<circle cx="437.80" cy="391.70" r="1.85" fill="#0a0a0a"/>
<circle cx="500.95" cy="406.70" r="1.35" fill="#2c2c2c" stroke="#111" stroke-width="0.8"/>
<path d="M497.70,395.00 L499.55,398.25 L495.85,398.25 Z" fill="#262626" stroke="#111" stroke-width="0.7" stroke-linejoin="round"/>
<circle cx="499.35" cy="399.10" r="1.85" fill="#0a0a0a"/>
<line x1="298.30" y1="348.00" x2="298.30" y2="482.70" stroke="#1a1a1a" stroke-width="1.25"/>
<line x1="297.70" y1="482.10" x2="514.10" y2="482.10" stroke="#1a1a1a" stroke-width="1.25"/>
<line x1="292.70" y1="482.10" x2="298.30" y2="482.10" stroke="#4a4a4a" stroke-width="0.85"/>
<text transform="translate(292.90,482.10) rotate(-90)" font-size="5.7" text-anchor="middle" fill="#2a2a2a" stroke="#2a2a2a" stroke-width="0.2">0</text>
<line x1="296.10" y1="455.38" x2="298.30" y2="455.38" stroke="#333" stroke-width="0.7"/>
<text transform="translate(292.90,455.38) rotate(-90)" font-size="5.7" text-anchor="middle" fill="#2a2a2a" stroke="#2a2a2a" stroke-width="0.2">10</text>
<line x1="296.10" y1="428.66" x2="298.30" y2="428.66" stroke="#333" stroke-width="0.7"/>
<text transform="translate(292.90,428.66) rotate(-90)" font-size="5.7" text-anchor="middle" fill="#2a2a2a" stroke="#2a2a2a" stroke-width="0.2">20</text>
<line x1="296.10" y1="401.94" x2="298.30" y2="401.94" stroke="#333" stroke-width="0.7"/>
<text transform="translate(292.90,401.94) rotate(-90)" font-size="5.7" text-anchor="middle" fill="#2a2a2a" stroke="#2a2a2a" stroke-width="0.2">30</text>
<line x1="296.10" y1="375.22" x2="298.30" y2="375.22" stroke="#333" stroke-width="0.7"/>
<text transform="translate(292.90,375.22) rotate(-90)" font-size="5.7" text-anchor="middle" fill="#2a2a2a" stroke="#2a2a2a" stroke-width="0.2">40</text>
<line x1="296.10" y1="348.50" x2="298.30" y2="348.50" stroke="#333" stroke-width="0.7"/>
<text transform="translate(292.90,348.50) rotate(-90)" font-size="5.7" text-anchor="middle" fill="#2a2a2a" stroke="#2a2a2a" stroke-width="0.2">50</text>
<text transform="translate(278.60,415.30) rotate(-90)" font-size="5.3" text-anchor="middle" fill="#333" stroke="#333" stroke-width="0.1">sTFR (pmol/mL)</text>
<text transform="translate(314.45,490.60) scale(1,1.085)" font-size="5.75" text-anchor="middle" fill="#2a2a2a" stroke="#2a2a2a" stroke-width="0.2">Sea Level</text>
<text transform="translate(314.75,496.10) scale(1,1.085)" font-size="5.75" text-anchor="middle" fill="#303030" stroke="#303030" stroke-width="0.15">(n = 39)</text>
<text transform="translate(376.00,490.60) scale(1,1.085)" font-size="5.75" text-anchor="middle" fill="#2a2a2a" stroke="#2a2a2a" stroke-width="0.2">Namche</text>
<text transform="translate(376.30,496.10) scale(1,1.085)" font-size="5.75" text-anchor="middle" fill="#303030" stroke="#303030" stroke-width="0.15">(n = 40)</text>
<text transform="translate(437.80,490.60) scale(1,1.085)" font-size="5.75" text-anchor="middle" fill="#2a2a2a" stroke="#2a2a2a" stroke-width="0.2">Base Camp 1</text>
<text transform="translate(438.10,496.10) scale(1,1.085)" font-size="5.75" text-anchor="middle" fill="#303030" stroke="#303030" stroke-width="0.15">(n = 38)</text>
<text transform="translate(499.35,490.60) scale(1,1.085)" font-size="5.75" text-anchor="middle" fill="#2a2a2a" stroke="#2a2a2a" stroke-width="0.2">Base Camp 2</text>
<text transform="translate(499.65,496.10) scale(1,1.085)" font-size="5.75" text-anchor="middle" fill="#303030" stroke="#303030" stroke-width="0.15">(n = 38)</text>
<text transform="translate(403.90,508.60) scale(1,1.085)" font-size="5.1" text-anchor="middle" fill="#2a2a2a" stroke="#2a2a2a" stroke-width="0.2">Altitude</text>
<text x="438.10" y="354.10" font-size="8" letter-spacing="0.3" text-anchor="middle" fill="#1a1a1a" stroke="#1a1a1a" stroke-width="0.3">**</text>
<text x="499.50" y="383.20" font-size="8" letter-spacing="0.3" text-anchor="middle" fill="#1a1a1a" stroke="#1a1a1a" stroke-width="0.3">**</text></g>
<g><line x1="45.55" y1="592.00" x2="45.55" y2="634.10" stroke="#383838" stroke-width="1.1"/>
<line x1="107.10" y1="553.80" x2="107.10" y2="614.90" stroke="#383838" stroke-width="1.1"/>
<line x1="168.90" y1="528.80" x2="168.90" y2="611.20" stroke="#383838" stroke-width="1.1"/>
<line x1="230.45" y1="528.00" x2="230.45" y2="611.70" stroke="#383838" stroke-width="1.1"/>
<line x1="42.30" y1="608.20" x2="42.30" y2="624.90" stroke="#404040" stroke-width="1.15"/>
<line x1="103.85" y1="591.70" x2="103.85" y2="609.80" stroke="#404040" stroke-width="1.15"/>
<line x1="165.65" y1="578.40" x2="165.65" y2="598.80" stroke="#404040" stroke-width="1.15"/>
<line x1="227.20" y1="581.30" x2="227.20" y2="606.90" stroke="#404040" stroke-width="1.15"/>
<line x1="43.95" y1="610.40" x2="43.95" y2="623.60" stroke="#484848" stroke-width="1.15"/>
<line x1="105.50" y1="592.90" x2="105.50" y2="608.00" stroke="#484848" stroke-width="1.15"/>
<line x1="167.30" y1="579.00" x2="167.30" y2="598.00" stroke="#484848" stroke-width="1.15"/>
<line x1="228.85" y1="583.00" x2="228.85" y2="604.00" stroke="#484848" stroke-width="1.15"/>
<line x1="45.55" y1="617.60" x2="107.10" y2="591.10" stroke="#111" stroke-width="1.4" stroke-dasharray="2.50 2.40" stroke-dashoffset="0.00"/>
<line x1="107.10" y1="591.10" x2="168.90" y2="580.10" stroke="#111" stroke-width="1.4" stroke-dasharray="2.42 2.32" stroke-dashoffset="0.00"/>
<line x1="168.90" y1="580.10" x2="230.45" y2="580.10" stroke="#111" stroke-width="1.4" stroke-dasharray="2.40 2.30" stroke-dashoffset="0.00"/>
<line x1="42.30" y1="618.40" x2="103.85" y2="602.20" stroke="#111" stroke-width="1.4" stroke-dasharray="7.93 2.34" stroke-dashoffset="9.46"/>
<line x1="103.85" y1="602.20" x2="165.65" y2="590.00" stroke="#111" stroke-width="1.4" stroke-dasharray="7.88 2.32" stroke-dashoffset="9.39"/>
<line x1="165.65" y1="590.00" x2="227.20" y2="597.10" stroke="#111" stroke-width="1.4" stroke-dasharray="7.83 2.31" stroke-dashoffset="9.33"/>
<line x1="43.95" y1="618.00" x2="105.50" y2="599.90" stroke="#111" stroke-width="1.5" stroke-linecap="round"/>
<line x1="105.50" y1="599.90" x2="167.30" y2="588.30" stroke="#111" stroke-width="1.5" stroke-linecap="round"/>
<line x1="167.30" y1="588.30" x2="228.85" y2="594.00" stroke="#111" stroke-width="1.5" stroke-linecap="round"/>
<circle cx="45.55" cy="617.60" r="1.35" fill="#2c2c2c" stroke="#111" stroke-width="0.8"/>
<path d="M42.30,616.40 L44.15,619.65 L40.45,619.65 Z" fill="#262626" stroke="#111" stroke-width="0.7" stroke-linejoin="round"/>
<circle cx="43.95" cy="618.00" r="1.85" fill="#0a0a0a"/>
<circle cx="107.10" cy="591.10" r="1.35" fill="#2c2c2c" stroke="#111" stroke-width="0.8"/>
<path d="M103.85,600.20 L105.70,603.45 L102.00,603.45 Z" fill="#262626" stroke="#111" stroke-width="0.7" stroke-linejoin="round"/>
<circle cx="105.50" cy="599.90" r="1.85" fill="#0a0a0a"/>
<circle cx="168.90" cy="580.10" r="1.35" fill="#2c2c2c" stroke="#111" stroke-width="0.8"/>
<path d="M165.65,588.00 L167.50,591.25 L163.80,591.25 Z" fill="#262626" stroke="#111" stroke-width="0.7" stroke-linejoin="round"/>
<circle cx="167.30" cy="588.30" r="1.85" fill="#0a0a0a"/>
<circle cx="230.45" cy="580.10" r="1.35" fill="#2c2c2c" stroke="#111" stroke-width="0.8"/>
<path d="M227.20,595.10 L229.05,598.35 L225.35,598.35 Z" fill="#262626" stroke="#111" stroke-width="0.7" stroke-linejoin="round"/>
<circle cx="228.85" cy="594.00" r="1.85" fill="#0a0a0a"/>
<line x1="27.80" y1="521.35" x2="27.80" y2="656.10" stroke="#1a1a1a" stroke-width="1.25"/>
<line x1="27.20" y1="655.50" x2="243.60" y2="655.50" stroke="#1a1a1a" stroke-width="1.25"/>
<line x1="22.20" y1="655.50" x2="27.80" y2="655.50" stroke="#4a4a4a" stroke-width="0.85"/>
<text transform="translate(22.40,655.50) rotate(-90)" font-size="5.7" text-anchor="middle" fill="#2a2a2a" stroke="#2a2a2a" stroke-width="0.2">0</text>
<line x1="25.60" y1="633.23" x2="27.80" y2="633.23" stroke="#333" stroke-width="0.7"/>
<text transform="translate(22.40,633.23) rotate(-90)" font-size="5.7" text-anchor="middle" fill="#2a2a2a" stroke="#2a2a2a" stroke-width="0.2">200</text>
<line x1="25.60" y1="610.95" x2="27.80" y2="610.95" stroke="#333" stroke-width="0.7"/>
<text transform="translate(22.40,610.95) rotate(-90)" font-size="5.7" text-anchor="middle" fill="#2a2a2a" stroke="#2a2a2a" stroke-width="0.2">400</text>
<line x1="25.60" y1="588.67" x2="27.80" y2="588.67" stroke="#333" stroke-width="0.7"/>
<text transform="translate(22.40,588.67) rotate(-90)" font-size="5.7" text-anchor="middle" fill="#2a2a2a" stroke="#2a2a2a" stroke-width="0.2">600</text>
<line x1="25.60" y1="566.40" x2="27.80" y2="566.40" stroke="#333" stroke-width="0.7"/>
<text transform="translate(22.40,566.40) rotate(-90)" font-size="5.7" text-anchor="middle" fill="#2a2a2a" stroke="#2a2a2a" stroke-width="0.2">800</text>
<line x1="25.60" y1="544.12" x2="27.80" y2="544.12" stroke="#333" stroke-width="0.7"/>
<text transform="translate(22.40,544.12) rotate(-90)" font-size="5.7" text-anchor="middle" fill="#2a2a2a" stroke="#2a2a2a" stroke-width="0.2">1000</text>
<line x1="25.60" y1="521.85" x2="27.80" y2="521.85" stroke="#333" stroke-width="0.7"/>
<text transform="translate(22.40,521.85) rotate(-90)" font-size="5.7" text-anchor="middle" fill="#2a2a2a" stroke="#2a2a2a" stroke-width="0.2">1200</text>
<text transform="translate(7.90,594.77) rotate(-90)" font-size="5.3" text-anchor="middle" fill="#333" stroke="#333" stroke-width="0.1">GDF15 (pg/mL)</text>
<text transform="translate(43.95,664.00) scale(1,1.085)" font-size="5.75" text-anchor="middle" fill="#2a2a2a" stroke="#2a2a2a" stroke-width="0.2">Sea Level</text>
<text transform="translate(44.25,669.50) scale(1,1.085)" font-size="5.75" text-anchor="middle" fill="#303030" stroke="#303030" stroke-width="0.15">(n = 38)</text>
<text transform="translate(105.50,664.00) scale(1,1.085)" font-size="5.75" text-anchor="middle" fill="#2a2a2a" stroke="#2a2a2a" stroke-width="0.2">Namche</text>
<text transform="translate(105.80,669.50) scale(1,1.085)" font-size="5.75" text-anchor="middle" fill="#303030" stroke="#303030" stroke-width="0.15">(n = 41)</text>
<text transform="translate(167.30,664.00) scale(1,1.085)" font-size="5.75" text-anchor="middle" fill="#2a2a2a" stroke="#2a2a2a" stroke-width="0.2">Base Camp 1</text>
<text transform="translate(167.60,669.50) scale(1,1.085)" font-size="5.75" text-anchor="middle" fill="#303030" stroke="#303030" stroke-width="0.15">(n = 39)</text>
<text transform="translate(228.85,664.00) scale(1,1.085)" font-size="5.75" text-anchor="middle" fill="#2a2a2a" stroke="#2a2a2a" stroke-width="0.2">Base Camp 2</text>
<text transform="translate(229.15,669.50) scale(1,1.085)" font-size="5.75" text-anchor="middle" fill="#303030" stroke="#303030" stroke-width="0.15">(n = 39)</text>
<text transform="translate(133.40,682.00) scale(1,1.085)" font-size="5.1" text-anchor="middle" fill="#2a2a2a" stroke="#2a2a2a" stroke-width="0.2">Altitude</text>
<text x="102.70" y="589.30" font-size="8" letter-spacing="0.3" text-anchor="middle" fill="#1a1a1a" stroke="#1a1a1a" stroke-width="0.3">**</text>
<text x="164.10" y="576.30" font-size="8" letter-spacing="0.3" text-anchor="middle" fill="#1a1a1a" stroke="#1a1a1a" stroke-width="0.3">**</text>
<text x="225.70" y="580.90" font-size="8" letter-spacing="0.3" text-anchor="middle" fill="#1a1a1a" stroke="#1a1a1a" stroke-width="0.3">**</text></g>
<g><line x1="316.05" y1="607.00" x2="316.05" y2="633.10" stroke="#383838" stroke-width="1.1"/>
<line x1="377.60" y1="580.80" x2="377.60" y2="621.10" stroke="#383838" stroke-width="1.1"/>
<line x1="439.40" y1="549.70" x2="439.40" y2="596.60" stroke="#383838" stroke-width="1.1"/>
<line x1="500.95" y1="536.20" x2="500.95" y2="604.00" stroke="#383838" stroke-width="1.1"/>
<line x1="312.80" y1="595.30" x2="312.80" y2="624.90" stroke="#404040" stroke-width="1.15"/>
<line x1="374.35" y1="579.30" x2="374.35" y2="606.30" stroke="#404040" stroke-width="1.15"/>
<line x1="436.15" y1="552.20" x2="436.15" y2="599.70" stroke="#404040" stroke-width="1.15"/>
<line x1="497.70" y1="577.60" x2="497.70" y2="606.60" stroke="#404040" stroke-width="1.15"/>
<line x1="314.45" y1="604.00" x2="314.45" y2="623.90" stroke="#484848" stroke-width="1.15"/>
<line x1="376.00" y1="584.90" x2="376.00" y2="605.80" stroke="#484848" stroke-width="1.15"/>
<line x1="437.80" y1="558.40" x2="437.80" y2="595.60" stroke="#484848" stroke-width="1.15"/>
<line x1="499.35" y1="577.60" x2="499.35" y2="603.00" stroke="#484848" stroke-width="1.15"/>
<line x1="316.05" y1="622.30" x2="377.60" y2="605.30" stroke="#111" stroke-width="1.4" stroke-dasharray="2.44 2.34" stroke-dashoffset="0.00"/>
<line x1="377.60" y1="605.30" x2="439.40" y2="576.20" stroke="#111" stroke-width="1.4" stroke-dasharray="2.52 2.41" stroke-dashoffset="0.00"/>
<line x1="439.40" y1="576.20" x2="500.95" y2="577.20" stroke="#111" stroke-width="1.4" stroke-dasharray="2.40 2.30" stroke-dashoffset="0.00"/>
<line x1="312.80" y1="613.20" x2="374.35" y2="595.10" stroke="#111" stroke-width="1.4" stroke-dasharray="7.96 2.35" stroke-dashoffset="9.49"/>
<line x1="374.35" y1="595.10" x2="436.15" y2="579.00" stroke="#111" stroke-width="1.4" stroke-dasharray="7.93 2.34" stroke-dashoffset="9.45"/>
<line x1="436.15" y1="579.00" x2="497.70" y2="593.40" stroke="#111" stroke-width="1.4" stroke-dasharray="7.91 2.33" stroke-dashoffset="9.43"/>
<line x1="314.45" y1="615.50" x2="376.00" y2="597.40" stroke="#111" stroke-width="1.5" stroke-linecap="round"/>
<line x1="376.00" y1="597.40" x2="437.80" y2="578.80" stroke="#111" stroke-width="1.5" stroke-linecap="round"/>
<line x1="437.80" y1="578.80" x2="499.35" y2="589.70" stroke="#111" stroke-width="1.5" stroke-linecap="round"/>
<circle cx="316.05" cy="622.30" r="1.35" fill="#2c2c2c" stroke="#111" stroke-width="0.8"/>
<path d="M312.80,611.20 L314.65,614.45 L310.95,614.45 Z" fill="#262626" stroke="#111" stroke-width="0.7" stroke-linejoin="round"/>
<circle cx="314.45" cy="615.50" r="1.85" fill="#0a0a0a"/>
<circle cx="377.60" cy="605.30" r="1.35" fill="#2c2c2c" stroke="#111" stroke-width="0.8"/>
<path d="M374.35,593.10 L376.20,596.35 L372.50,596.35 Z" fill="#262626" stroke="#111" stroke-width="0.7" stroke-linejoin="round"/>
<circle cx="376.00" cy="597.40" r="1.85" fill="#0a0a0a"/>
<circle cx="439.40" cy="576.20" r="1.35" fill="#2c2c2c" stroke="#111" stroke-width="0.8"/>
<path d="M436.15,577.00 L438.00,580.25 L434.30,580.25 Z" fill="#262626" stroke="#111" stroke-width="0.7" stroke-linejoin="round"/>
<circle cx="437.80" cy="578.80" r="1.85" fill="#0a0a0a"/>
<circle cx="500.95" cy="577.20" r="1.35" fill="#2c2c2c" stroke="#111" stroke-width="0.8"/>
<path d="M497.70,591.40 L499.55,594.65 L495.85,594.65 Z" fill="#262626" stroke="#111" stroke-width="0.7" stroke-linejoin="round"/>
<circle cx="499.35" cy="589.70" r="1.85" fill="#0a0a0a"/>
<line x1="298.30" y1="521.35" x2="298.30" y2="656.10" stroke="#1a1a1a" stroke-width="1.25"/>
<line x1="297.70" y1="655.50" x2="514.10" y2="655.50" stroke="#1a1a1a" stroke-width="1.25"/>
<line x1="292.70" y1="655.50" x2="298.30" y2="655.50" stroke="#4a4a4a" stroke-width="0.85"/>
<text transform="translate(292.90,655.50) rotate(-90)" font-size="5.7" text-anchor="middle" fill="#2a2a2a" stroke="#2a2a2a" stroke-width="0.2">0</text>
<line x1="296.10" y1="633.23" x2="298.30" y2="633.23" stroke="#333" stroke-width="0.7"/>
<text transform="translate(292.90,633.23) rotate(-90)" font-size="5.7" text-anchor="middle" fill="#2a2a2a" stroke="#2a2a2a" stroke-width="0.2">10</text>
<line x1="296.10" y1="610.95" x2="298.30" y2="610.95" stroke="#333" stroke-width="0.7"/>
<text transform="translate(292.90,610.95) rotate(-90)" font-size="5.7" text-anchor="middle" fill="#2a2a2a" stroke="#2a2a2a" stroke-width="0.2">20</text>
<line x1="296.10" y1="588.67" x2="298.30" y2="588.67" stroke="#333" stroke-width="0.7"/>
<text transform="translate(292.90,588.67) rotate(-90)" font-size="5.7" text-anchor="middle" fill="#2a2a2a" stroke="#2a2a2a" stroke-width="0.2">30</text>
<line x1="296.10" y1="566.40" x2="298.30" y2="566.40" stroke="#333" stroke-width="0.7"/>
<text transform="translate(292.90,566.40) rotate(-90)" font-size="5.7" text-anchor="middle" fill="#2a2a2a" stroke="#2a2a2a" stroke-width="0.2">40</text>
<line x1="296.10" y1="544.12" x2="298.30" y2="544.12" stroke="#333" stroke-width="0.7"/>
<text transform="translate(292.90,544.12) rotate(-90)" font-size="5.7" text-anchor="middle" fill="#2a2a2a" stroke="#2a2a2a" stroke-width="0.2">50</text>
<line x1="296.10" y1="521.85" x2="298.30" y2="521.85" stroke="#333" stroke-width="0.7"/>
<text transform="translate(292.90,521.85) rotate(-90)" font-size="5.7" text-anchor="middle" fill="#2a2a2a" stroke="#2a2a2a" stroke-width="0.2">60</text>
<text transform="translate(278.60,588.67) rotate(-90)" font-size="5.3" text-anchor="middle" fill="#333" stroke="#333" stroke-width="0.1">IL-6 (pg/mL)</text>
<text transform="translate(314.45,664.00) scale(1,1.085)" font-size="5.75" text-anchor="middle" fill="#2a2a2a" stroke="#2a2a2a" stroke-width="0.2">Sea Level</text>
<text transform="translate(314.75,669.50) scale(1,1.085)" font-size="5.75" text-anchor="middle" fill="#303030" stroke="#303030" stroke-width="0.15">(n = 38)</text>
<text transform="translate(376.00,664.00) scale(1,1.085)" font-size="5.75" text-anchor="middle" fill="#2a2a2a" stroke="#2a2a2a" stroke-width="0.2">Namche</text>
<text transform="translate(376.30,669.50) scale(1,1.085)" font-size="5.75" text-anchor="middle" fill="#303030" stroke="#303030" stroke-width="0.15">(n = 39)</text>
<text transform="translate(437.80,664.00) scale(1,1.085)" font-size="5.75" text-anchor="middle" fill="#2a2a2a" stroke="#2a2a2a" stroke-width="0.2">Base Camp 1</text>
<text transform="translate(438.10,669.50) scale(1,1.085)" font-size="5.75" text-anchor="middle" fill="#303030" stroke="#303030" stroke-width="0.15">(n = 36)</text>
<text transform="translate(499.35,664.00) scale(1,1.085)" font-size="5.75" text-anchor="middle" fill="#2a2a2a" stroke="#2a2a2a" stroke-width="0.2">Base Camp 2</text>
<text transform="translate(499.65,669.50) scale(1,1.085)" font-size="5.75" text-anchor="middle" fill="#303030" stroke="#303030" stroke-width="0.15">(n = 38)</text>
<text transform="translate(403.90,682.00) scale(1,1.085)" font-size="5.1" text-anchor="middle" fill="#2a2a2a" stroke="#2a2a2a" stroke-width="0.2">Altitude</text>
<text x="370.20" y="584.30" font-size="8" letter-spacing="0.3" text-anchor="middle" fill="#1a1a1a" stroke="#1a1a1a" stroke-width="0.3">*</text>
<text x="431.70" y="557.30" font-size="8" letter-spacing="0.3" text-anchor="middle" fill="#1a1a1a" stroke="#1a1a1a" stroke-width="0.3">**</text>
<text x="493.60" y="574.10" font-size="8" letter-spacing="0.3" text-anchor="middle" fill="#1a1a1a" stroke="#1a1a1a" stroke-width="0.3">**</text></g>
<rect x="56.3" y="10.3" width="81.3" height="25.2" fill="#fff" stroke="#808080" stroke-width="0.7"/>
<circle cx="70.1" cy="15.9" r="1.6" fill="#111"/>
<circle cx="70.1" cy="22.1" r="1.35" fill="none" stroke="#8a8a8a" stroke-width="0.45"/>
<path d="M70.1,26.8 L71.8,29.8 L68.4,29.8 Z" fill="none" stroke="#8a8a8a" stroke-width="0.45"/>
<line x1="81.9" y1="15.9" x2="96.3" y2="15.9" stroke="#111" stroke-width="1.45"/>
<line x1="81.9" y1="22.1" x2="96.3" y2="22.1" stroke="#111" stroke-width="1.45" stroke-dasharray="2.7 1.2"/>
<line x1="81.9" y1="28.5" x2="96.3" y2="28.5" stroke="#111" stroke-width="1.45" stroke-dasharray="9.2 1.2 4 10"/>
<text transform="translate(103.50,19.10) scale(1,1.08)" font-size="5.9" text-anchor="start" fill="#1c1c1c" stroke="#1c1c1c" stroke-width="0.2">Overall</text>
<text transform="translate(103.50,25.30) scale(1,1.08)" font-size="5.9" text-anchor="start" fill="#1c1c1c" stroke="#1c1c1c" stroke-width="0.2">Females</text>
<text transform="translate(103.50,31.50) scale(1,1.08)" font-size="5.9" text-anchor="start" fill="#1c1c1c" stroke="#1c1c1c" stroke-width="0.2">Males</text>
</svg>
</body></html>
